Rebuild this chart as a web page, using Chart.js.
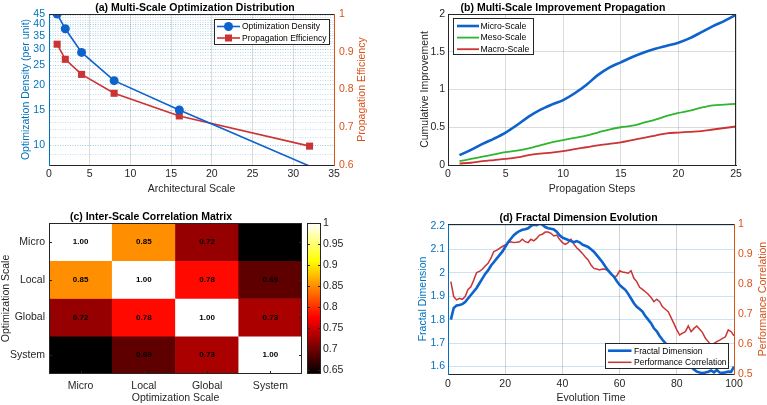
<!DOCTYPE html>
<html><head><meta charset="utf-8">
<script src="https://cdn.jsdelivr.net/npm/chart.js@4.4.1/dist/chart.umd.min.js"></script>
<style>
html,body{margin:0;padding:0;background:#fff;}
#wrap{position:relative;width:767px;height:405px;overflow:hidden;background:#fff;}
canvas{position:absolute;display:block;}
</style></head><body>
<div id="wrap">
<canvas id="ca" width="390" height="200" style="left:0;top:0;width:390px;height:200px"></canvas>
<canvas id="cb" width="377" height="200" style="left:390px;top:0;width:377px;height:200px"></canvas>
<canvas id="cc" width="305" height="205" style="left:0;top:200px;width:305px;height:205px"></canvas>
<canvas id="ccb" width="62" height="205" style="left:305px;top:200px;width:62px;height:205px"></canvas>
<canvas id="cd" width="377" height="205" style="left:390px;top:200px;width:377px;height:205px"></canvas>
</div>
<script>
// ---------------- DATA ----------------
// (a) Multi-Scale Optimization Distribution
const aScale = [1, 2, 4, 8, 16, 32];
const aDensity = [45, 38, 29, 21, 15, 7.9];
const aEfficiency = [0.92, 0.88, 0.84, 0.79, 0.73, 0.65];
const aXTicks = [0, 5, 10, 15, 20, 25, 30, 35];
const aDensityTicks = [10, 15, 20, 25, 30, 35, 40, 45];
const aEffTicks = [0.6, 0.7, 0.8, 0.9, 1];

// (b) Multi-Scale Improvement Propagation
const bSteps = [1,2,3,4,5,6,7,8,9,10,11,12,13,14,15,16,17,18,19,20,21,22,23,24,25];
const bMicro = [0.13,0.20,0.28,0.35,0.43,0.53,0.64,0.73,0.80,0.86,0.95,1.06,1.19,1.29,1.36,1.43,1.49,1.54,1.58,1.62,1.68,1.76,1.84,1.91,1.99];
const bMeso  = [0.05,0.08,0.11,0.14,0.17,0.19,0.22,0.26,0.30,0.33,0.36,0.39,0.43,0.47,0.50,0.52,0.56,0.60,0.65,0.69,0.72,0.76,0.79,0.80,0.81];
const bMacro = [0.02,0.03,0.05,0.065,0.08,0.10,0.13,0.15,0.165,0.185,0.21,0.235,0.26,0.28,0.30,0.33,0.36,0.39,0.42,0.43,0.44,0.45,0.47,0.49,0.51];
const bXTicks = [0, 5, 10, 15, 20, 25];
const bYTicks = [0, 0.5, 1, 1.5, 2];

// (c) Inter-Scale Correlation Matrix
const cScales = ['Micro', 'Local', 'Global', 'System'];
const cMicro  = [1.00, 0.85, 0.72, 0.64];
const cLocal  = [0.85, 1.00, 0.78, 0.69];
const cGlobal = [0.72, 0.78, 1.00, 0.73];
const cSystem = [0.64, 0.69, 0.73, 1.00];
const cbTicks = [0.65, 0.7, 0.75, 0.8, 0.85, 0.9, 0.95, 1];

// (d) Fractal Dimension Evolution
const dTime = [1,2,3,4,5,6,7,8,9,10,11,12,13,14,15,16,17,18,19,20,21,22,23,24,25,26,27,28,29,30,31,32,33,34,35,36,37,38,39,40,41,42,43,44,45,46,47,48,49,50,51,52,53,54,55,56,57,58,59,60,61,62,63,64,65,66,67,68,69,70,71,72,73,74,75,76,77,78,79,80,81,82,83,84,85,86,87,88,89,90,91,92,93,94,95,96,97,98,99,100];
const dFractal = [1.80,1.85,1.86,1.862,1.866,1.875,1.89,1.905,1.92,1.935,1.955,1.975,1.995,2.01,2.03,2.045,2.06,2.075,2.09,2.11,2.13,2.145,2.16,2.17,2.178,2.183,2.186,2.19,2.20,2.205,2.203,2.21,2.205,2.195,2.19,2.188,2.185,2.175,2.16,2.15,2.145,2.14,2.135,2.13,2.135,2.13,2.12,2.115,2.11,2.10,2.09,2.075,2.06,2.045,2.027,2.01,1.995,1.984,1.965,1.948,1.937,1.927,1.91,1.89,1.87,1.855,1.845,1.834,1.815,1.80,1.785,1.763,1.75,1.73,1.714,1.70,1.685,1.67,1.66,1.654,1.645,1.635,1.62,1.61,1.60,1.587,1.578,1.574,1.572,1.574,1.578,1.583,1.575,1.585,1.574,1.573,1.575,1.578,1.577,1.60];
const dPerf = [0.808,0.758,0.747,0.752,0.749,0.758,0.782,0.791,0.813,0.838,0.842,0.849,0.86,0.869,0.886,0.908,0.912,0.919,0.925,0.93,0.938,0.941,0.938,0.939,0.941,0.949,0.941,0.938,0.949,0.944,0.952,0.963,0.966,0.973,0.973,0.969,0.96,0.963,0.949,0.938,0.932,0.938,0.949,0.933,0.921,0.912,0.902,0.89,0.88,0.863,0.852,0.85,0.847,0.85,0.849,0.844,0.836,0.822,0.827,0.844,0.84,0.838,0.836,0.844,0.819,0.808,0.789,0.782,0.774,0.766,0.755,0.741,0.749,0.741,0.724,0.716,0.708,0.688,0.668,0.647,0.63,0.636,0.641,0.66,0.641,0.652,0.66,0.649,0.638,0.619,0.608,0.595,0.602,0.608,0.613,0.619,0.624,0.647,0.641,0.627];
const dXTicks = [0, 20, 40, 60, 80, 100];
const dFracTicks = [1.6, 1.7, 1.8, 1.9, 2, 2.1, 2.2];
const dPerfTicks = [0.5, 0.6, 0.7, 0.8, 0.9, 1];

// ---------------- STYLE ----------------
const FONT = '"Liberation Sans", Arial, Helvetica, sans-serif';
Chart.defaults.font.family = FONT;
Chart.defaults.font.size = 10.5;
Chart.defaults.color = '#262626';
Chart.defaults.animation = false;
Chart.defaults.plugins.legend.display = false;
Chart.defaults.plugins.tooltip.enabled = false;

const AX_BLUE = '#0072BD', AX_ORANGE = '#D95319', DARK = '#262626';
const BLUE = '#0d62cc', RED = '#cc3333', GREEN = '#2fb52f';
const GRID = 'rgba(38,38,38,0.16)';
const fmt = v => String(parseFloat(Number(v).toFixed(3)));
const setTicks = arr => s => { s.ticks = arr.map(v => ({value: v})); };
const pts = (xs, ys) => xs.map((x, i) => ({x: x, y: ys[i]}));
const titleOpts = (text) => ({display: true, text: text, color: '#000', font: {weight: 'bold', size: 10.5}, padding: {top: 0, bottom: 0}});

// plugin: frame sides, bottom-to-top right title, boxed legend, inward tick marks
const extras = {
  id: 'extras',
  afterDraw(chart, args, o) {
    const ctx = chart.ctx, a = chart.chartArea;
    ctx.save();
    if (o.inTicks) {
      ctx.lineWidth = 1;
      o.inTicks.forEach(it => {
        const s = chart.scales[it.scale];
        ctx.strokeStyle = it.color;
        s.ticks.forEach(t => {
          const p = Math.round(s.getPixelForValue(t.value)) + 0.5;
          ctx.beginPath();
          if (it.side === 'left') { ctx.moveTo(a.left, p); ctx.lineTo(a.left + 3, p); }
          if (it.side === 'right') { ctx.moveTo(a.right, p); ctx.lineTo(a.right - 3, p); }
          if (it.side === 'bottom') { ctx.moveTo(p, a.bottom); ctx.lineTo(p, a.bottom - 3); }
          ctx.stroke();
        });
      });
    }
    if (o.frame) {
      ctx.lineWidth = 1;
      Object.keys(o.frame).forEach(side => {
        ctx.strokeStyle = o.frame[side];
        ctx.beginPath();
        if (side === 'top') { ctx.moveTo(a.left, Math.round(a.top) + 0.5); ctx.lineTo(a.right, Math.round(a.top) + 0.5); }
        if (side === 'bottom') { ctx.moveTo(a.left, Math.round(a.bottom) - 0.5); ctx.lineTo(a.right, Math.round(a.bottom) - 0.5); }
        if (side === 'left') { ctx.moveTo(Math.round(a.left) + 0.5, a.top); ctx.lineTo(Math.round(a.left) + 0.5, a.bottom); }
        if (side === 'right') { ctx.moveTo(Math.round(a.right) - 0.5, a.top); ctx.lineTo(Math.round(a.right) - 0.5, a.bottom); }
        ctx.stroke();
      });
    }
    if (o.rightTitle) {
      const t = o.rightTitle;
      ctx.save();
      ctx.translate(t.x, (a.top + a.bottom) / 2);
      ctx.rotate(-Math.PI / 2);
      ctx.font = '10.5px ' + FONT;
      ctx.fillStyle = t.color;
      ctx.textAlign = 'center';
      ctx.textBaseline = 'middle';
      ctx.fillText(t.text, 0, 0);
      ctx.restore();
    }
    if (o.legend) {
      const L = o.legend;
      ctx.fillStyle = '#fff';
      ctx.fillRect(L.x, L.y, L.w, L.h);
      ctx.strokeStyle = DARK; ctx.lineWidth = 1;
      ctx.strokeRect(L.x + 0.5, L.y + 0.5, L.w - 1, L.h - 1);
      chart.data.datasets.forEach((ds, i) => {
        const y = L.y + L.row0 + i * L.rowH;
        ctx.strokeStyle = ds.borderColor; ctx.lineWidth = ds.borderWidth;
        ctx.beginPath(); ctx.moveTo(L.x + L.lx0, y); ctx.lineTo(L.x + L.lx1, y); ctx.stroke();
        const mx = L.x + (L.lx0 + L.lx1) / 2;
        ctx.fillStyle = ds.borderColor;
        if (ds.legendMarker === 'circle') { ctx.beginPath(); ctx.arc(mx, y, 4.5, 0, Math.PI * 2); ctx.fill(); }
        if (ds.legendMarker === 'rect') { ctx.fillRect(mx - 3.5, y - 3.5, 7, 7); }
        ctx.fillStyle = '#000';
        ctx.font = L.font + 'px ' + FONT;
        ctx.textAlign = 'left'; ctx.textBaseline = 'middle';
        ctx.fillText(ds.label, L.x + L.tx, y + 0.5);
      });
    }
    ctx.restore();
  }
};
Chart.register(extras);

// ---------------- (a) ----------------
new Chart(document.getElementById('ca'), {
  type: 'line',
  data: { datasets: [
    { label: 'Optimization Density', data: pts(aScale, aDensity), yAxisID: 'yL',
      borderColor: BLUE, backgroundColor: BLUE, borderWidth: 1.6, tension: 0,
      pointStyle: 'circle', legendMarker: 'circle', pointBorderWidth: 0, pointBackgroundColor: BLUE,
      pointRadius: c => (c.raw && c.raw.y < 8) ? 0 : 4.5 },
    { label: 'Propagation Efficiency', data: pts(aScale, aEfficiency), yAxisID: 'yR',
      borderColor: RED, backgroundColor: RED, borderWidth: 1.6, tension: 0,
      pointStyle: 'rect', legendMarker: 'rect', pointBorderWidth: 0, pointBackgroundColor: RED, pointRadius: 5 }
  ]},
  options: {
    responsive: false,
    layout: { padding: { top: 1.4, left: 0, right: 0, bottom: 0 } },
    plugins: {
      title: titleOpts('(a) Multi-Scale Optimization Distribution'),
      extras: {
        frame: { top: DARK },
        rightTitle: { text: 'Propagation Efficiency', x: 362, color: AX_ORANGE },
        legend: { x: 214, y: 19, w: 116, h: 26, row0: 7.5, rowH: 11.5, lx0: 3, lx1: 26, tx: 28, font: 8.5 }
      }
    },
    scales: {
      x: { type: 'linear', min: 0, max: 35, afterBuildTicks: setTicks(aXTicks),
        ticks: { padding: 3, maxRotation: 0, autoSkip: false, callback: fmt },
        grid: { color: GRID, drawTicks: false }, border: { color: DARK },
        title: { display: true, text: 'Architectural Scale', color: DARK, padding: { top: 0, bottom: 4.7 } },
        afterFit: s => { s.height = 35; } },
      yL: { type: 'logarithmic', position: 'left', min: 8, max: 45,
        afterBuildTicks: s => { const t = []; for (let v = 8; v <= 45; v++) t.push({value: v}); s.ticks = t; },
        ticks: { color: AX_BLUE, padding: 4, autoSkip: false, callback: v => aDensityTicks.includes(v) ? String(v) : '' },
        grid: { color: c => (c.tick && aDensityTicks.includes(c.tick.value)) ? 'rgba(0,114,189,0.38)' : 'rgba(0,114,189,0.24)', drawTicks: false },
        border: { color: AX_BLUE, dash: [1, 1.5] },
        title: { display: true, text: 'Optimization Density (per unit)', color: AX_BLUE, padding: { top: 19.7, bottom: 0 } },
        afterFit: s => { s.width = 49; } },
      yR: { type: 'linear', position: 'right', min: 0.6, max: 1, afterBuildTicks: setTicks(aEffTicks),
        ticks: { color: AX_ORANGE, padding: 5, callback: fmt },
        grid: { drawOnChartArea: false, drawTicks: false }, border: { color: AX_ORANGE },
        afterFit: s => { s.width = 56; } }
    }
  }
});

// ---------------- (b) ----------------
new Chart(document.getElementById('cb'), {
  type: 'line',
  data: { datasets: [
    { label: 'Micro-Scale', data: pts(bSteps, bMicro), borderColor: BLUE, borderWidth: 2.6, pointRadius: 0, tension: 0.35 },
    { label: 'Meso-Scale', data: pts(bSteps, bMeso), borderColor: GREEN, borderWidth: 1.8, pointRadius: 0, tension: 0.35 },
    { label: 'Macro-Scale', data: pts(bSteps, bMacro), borderColor: RED, borderWidth: 1.8, pointRadius: 0, tension: 0.35 }
  ]},
  options: {
    responsive: false,
    layout: { padding: { top: 1.4, left: 0, right: 31, bottom: 0 } },
    plugins: {
      title: titleOpts('(b) Multi-Scale Improvement Propagation'),
      extras: {
        frame: { top: DARK, right: DARK },
        legend: { x: 63, y: 18, w: 81, h: 37, row0: 8, rowH: 11.6, lx0: 4, lx1: 26, tx: 27.5, font: 8.7 }
      }
    },
    scales: {
      x: { type: 'linear', min: 0, max: 25, afterBuildTicks: setTicks(bXTicks),
        ticks: { padding: 3, maxRotation: 0, autoSkip: false, callback: fmt },
        grid: { color: GRID, drawTicks: false }, border: { color: DARK },
        title: { display: true, text: 'Propagation Steps', color: DARK, padding: { top: 0, bottom: 4.7 } },
        afterFit: s => { s.height = 35; } },
      y: { type: 'linear', min: 0, max: 2, afterBuildTicks: setTicks(bYTicks),
        ticks: { padding: 3, callback: fmt },
        grid: { color: GRID, drawTicks: false }, border: { color: DARK },
        title: { display: true, text: 'Cumulative Improvement', color: DARK, padding: { top: 28.7, bottom: 0 } },
        afterFit: s => { s.width = 58; } }
    }
  }
});

// ---------------- (c) ----------------
const cMatrix = [cMicro, cLocal, cGlobal, cSystem];
const cMin = 0.64, cMax = 1.0;
function hot(v) {
  const t = Math.max(0, Math.min(1, (v - cMin) / (cMax - cMin)));
  const r = Math.min(1, t / 0.375);
  const g = Math.max(0, Math.min(1, (t - 0.375) / 0.375));
  const b = Math.max(0, Math.min(1, (t - 0.75) / 0.25));
  return 'rgb(' + Math.round(r * 255) + ',' + Math.round(g * 255) + ',' + Math.round(b * 255) + ')';
}
const cellText = {
  id: 'cellText',
  afterDatasetsDraw(chart) {
    const ctx = chart.ctx;
    ctx.save();
    ctx.font = 'bold 8px ' + FONT; ctx.fillStyle = '#000';
    ctx.textAlign = 'center'; ctx.textBaseline = 'middle';
    chart.data.datasets.forEach((ds, di) => {
      chart.getDatasetMeta(di).data.forEach((bar, j) => {
        const p = bar.getProps(['x', 'y', 'base'], true);
        ctx.fillText(ds.values[j].toFixed(2), p.x, (p.y + p.base) / 2);
      });
    });
    ctx.restore();
  }
};
new Chart(document.getElementById('cc'), {
  type: 'bar',
  data: { labels: cScales, datasets: cMatrix.map((row, r) => ({
    label: cScales[r], values: row,
    data: row.map(() => [r + 0.5, r + 1.5]),
    backgroundColor: row.map(hot), borderWidth: 0,
    grouped: false, barPercentage: 1, categoryPercentage: 1
  })) },
  plugins: [cellText],
  options: {
    responsive: false,
    layout: { padding: { top: 10.4, left: 0, right: 3, bottom: 0 } },
    plugins: {
      title: titleOpts('(c) Inter-Scale Correlation Matrix'),
      extras: {
        inTicks: [{scale: 'y', side: 'left', color: DARK}, {scale: 'y', side: 'right', color: DARK}, {scale: 'x', side: 'bottom', color: DARK}],
        frame: { top: DARK, bottom: DARK, left: DARK, right: DARK }
      }
    },
    scales: {
      x: { ticks: { padding: 6, maxRotation: 0 }, grid: { display: false, drawTicks: false }, border: { display: false },
        title: { display: true, text: 'Optimization Scale', color: DARK, padding: { top: 0, bottom: 0.7 } },
        afterFit: s => { s.height = 31; } },
      y: { type: 'linear', min: 0.5, max: 4.5, reverse: true,
        afterBuildTicks: s => { s.ticks = cScales.map((_, i) => ({value: i + 1})); },
        ticks: { padding: 4, callback: v => cScales[Math.round(v) - 1] },
        grid: { display: false, drawTicks: false }, border: { display: false },
        title: { display: true, text: 'Optimization Scale', color: DARK, padding: { top: 0, bottom: 0 } },
        afterFit: s => { s.width = 49; } }
    }
  }
});

// colorbar
new Chart(document.getElementById('ccb'), {
  type: 'bar',
  data: { labels: [''], datasets: [{
    data: [[cMin, cMax]], borderWidth: 0, barPercentage: 1, categoryPercentage: 1,
    backgroundColor: c => {
      const a = c.chart.chartArea;
      if (!a) return '#000';
      const g = c.chart.ctx.createLinearGradient(0, a.bottom, 0, a.top);
      g.addColorStop(0, hot(cMin)); g.addColorStop(0.375, '#ff0000');
      g.addColorStop(0.75, '#ffff00'); g.addColorStop(1, hot(cMax));
      return g;
    }
  }]},
  options: {
    responsive: false,
    layout: { padding: { top: 23, left: 2, right: 0, bottom: 31 } },
    plugins: { extras: {
      inTicks: [{scale: 'y', side: 'left', color: DARK}, {scale: 'y', side: 'right', color: DARK}],
      frame: { top: DARK, bottom: DARK, left: DARK, right: DARK } } },
    scales: {
      x: { display: false },
      y: { position: 'right', min: cMin, max: cMax, afterBuildTicks: setTicks(cbTicks),
        ticks: { padding: 2, callback: fmt }, grid: { display: false, drawTicks: false }, border: { display: false },
        afterFit: s => { s.width = 46; } }
    }
  }
});

// ---------------- (d) ----------------
new Chart(document.getElementById('cd'), {
  type: 'line',
  data: { datasets: [
    { label: 'Fractal Dimension', data: pts(dTime, dFractal), yAxisID: 'yL', borderColor: BLUE, borderWidth: 2.6, pointRadius: 0, tension: 0 },
    { label: 'Performance Correlation', data: pts(dTime, dPerf), yAxisID: 'yR', borderColor: RED, borderWidth: 1.5, pointRadius: 0, tension: 0 }
  ]},
  options: {
    responsive: false,
    layout: { padding: { top: 11.4, left: 0, right: 0, bottom: 0 } },
    plugins: {
      title: titleOpts('(d) Fractal Dimension Evolution'),
      extras: {
        frame: { top: DARK },
        rightTitle: { text: 'Performance Correlation', x: 373, color: AX_ORANGE },
        legend: { x: 215, y: 143, w: 124, h: 26, row0: 7.7, rowH: 11.6, lx0: 3, lx1: 26.5, tx: 29, font: 8.5 }
      }
    },
    scales: {
      x: { type: 'linear', min: 0, max: 100, afterBuildTicks: setTicks(dXTicks),
        ticks: { padding: 4, maxRotation: 0, autoSkip: false, callback: fmt },
        grid: { color: 'rgba(38,38,38,0.2)', drawTicks: false }, border: { color: DARK },
        title: { display: true, text: 'Evolution Time', color: DARK, padding: { top: 0, bottom: 0.7 } },
        afterFit: s => { s.height = 31; } },
      yL: { type: 'linear', position: 'left', min: 1.568, max: 2.208, afterBuildTicks: setTicks(dFracTicks),
        ticks: { color: AX_BLUE, padding: 3, callback: fmt },
        grid: { color: 'rgba(0,114,189,0.2)', drawTicks: false }, border: { color: AX_BLUE },
        title: { display: true, text: 'Fractal Dimension', color: AX_BLUE, padding: { top: 26.7, bottom: 0 } },
        afterFit: s => { s.width = 58; } },
      yR: { type: 'linear', position: 'right', min: 0.5, max: 1, afterBuildTicks: setTicks(dPerfTicks),
        ticks: { color: AX_ORANGE, padding: 4, callback: fmt },
        grid: { drawOnChartArea: false, drawTicks: false }, border: { color: AX_ORANGE },
        afterFit: s => { s.width = 33; } }
    }
  }
});
</script>
</body></html>
